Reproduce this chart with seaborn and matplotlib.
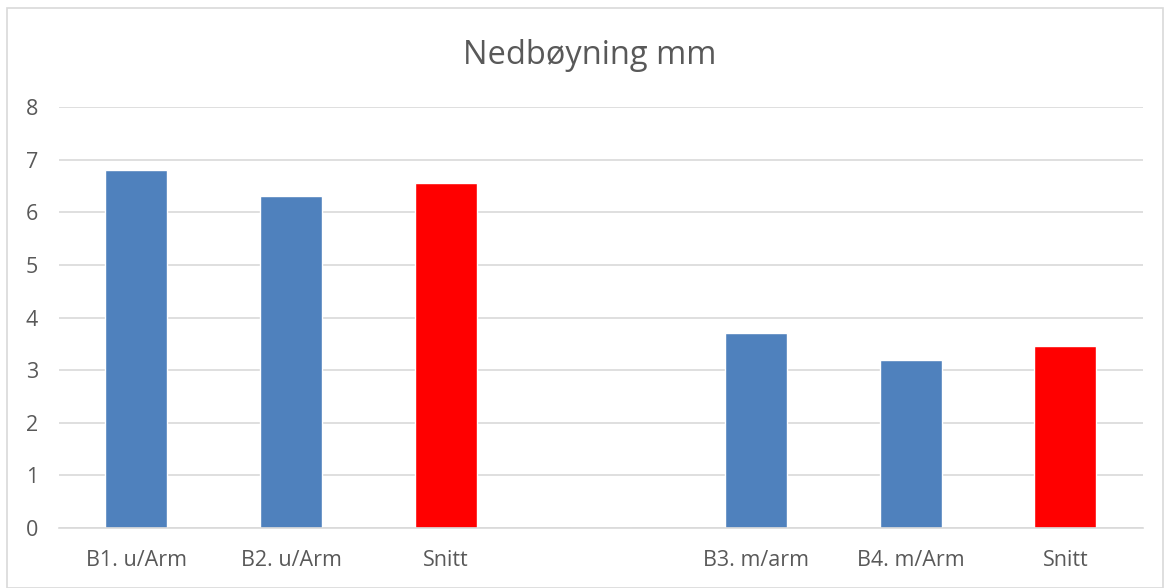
import matplotlib
matplotlib.use("Agg")
import matplotlib.pyplot as plt
import seaborn as sns
import pandas as pd
from matplotlib.patches import Rectangle

# Deflection per beam, with averages ("Snitt") for each group
slots = ["b1", "b2", "avg1", "gap", "b3", "b4", "avg2"]
tick_labels = ["B1. u/Arm", "B2. u/Arm", "Snitt", "", "B3. m/arm", "B4. m/Arm", "Snitt"]
values = [6.8, 6.3, 6.55, 0.0, 3.7, 3.2, 3.45]
kinds = ["beam", "beam", "avg", "beam", "beam", "beam", "avg"]

df = pd.DataFrame({"slot": slots, "value": values, "kind": kinds})

sns.set_theme(style="white")
plt.rcParams["font.family"] = ["Open Sans", "DejaVu Sans"]

fig = plt.figure(figsize=(11.68, 5.88), dpi=100)
ax = fig.add_axes([0.0505, 0.102, 0.928, 0.716])

palette = {"beam": "#4F81BD", "avg": "#FF0000"}
sns.barplot(data=df, x="slot", y="value", hue="kind", palette=palette,
            order=slots, dodge=False, width=0.4, legend=False, ax=ax,
            saturation=1)

ax.set_ylim(0, 8)
ax.set_yticks(range(0, 9))
ax.yaxis.grid(True, color="#D9D9D9", linewidth=1.2)
ax.set_axisbelow(True)
ax.set_xticks(range(len(slots)))
ax.set_xticklabels(tick_labels)
ax.set_xlim(-0.5, len(slots) - 0.5)
ax.tick_params(axis="both", length=0, labelsize=15.5, labelcolor="#595959")
ax.tick_params(axis="x", pad=16)
ax.tick_params(axis="y", pad=15)
for side in ["top", "right", "left"]:
    ax.spines[side].set_visible(False)
ax.spines["bottom"].set_color("#D9D9D9")
ax.spines["bottom"].set_linewidth(1.2)
ax.set_xlabel("")
ax.set_ylabel("")

fig.text(0.505, 0.905, "Nedbøyning mm", ha="center", va="center",
         fontsize=23.5, color="#595959")

# thin light frame around the chart
fig.patches.append(Rectangle((0.006, 0.0), 0.99, 0.986, transform=fig.transFigure,
                             fill=False, edgecolor="#D9D9D9", linewidth=1.2))

fig.savefig("out.png", dpi=100)
